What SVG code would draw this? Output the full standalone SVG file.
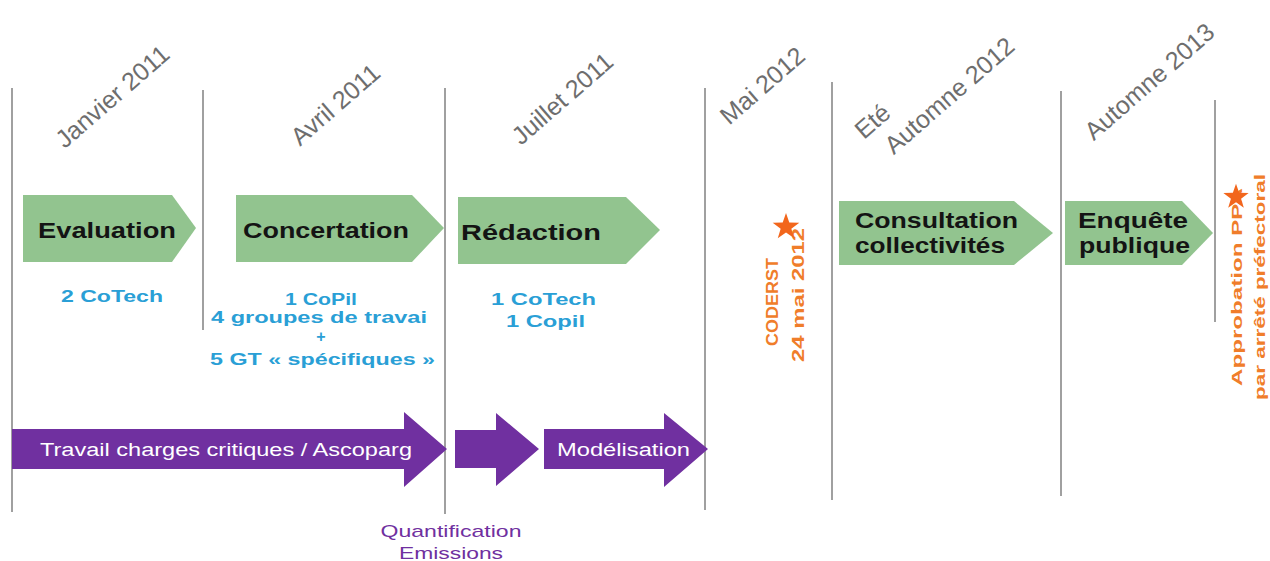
<svg xmlns="http://www.w3.org/2000/svg" width="1270" height="561" viewBox="0 0 1270 561">
<style>
.bg{fill:#ffffff}
.sep{stroke:#808080;stroke-width:1.5;fill:none}
.date{font-family:"Liberation Sans",Arial,sans-serif;font-size:25px;fill:#6e6e6e}
.chev{fill:#92c48f}
.lbl{font-family:"Liberation Sans",Arial,sans-serif;font-size:22px;font-weight:bold;fill:#141414}
.blue{font-family:"Liberation Sans",Arial,sans-serif;font-size:16px;font-weight:bold;fill:#2a9fd6;text-anchor:start}
.purp{fill:#7030a0}
.wt{font-family:"Liberation Sans",Arial,sans-serif;font-size:18px;fill:#ffffff}
.pt{font-family:"Liberation Sans",Arial,sans-serif;font-size:17px;fill:#7030a0}
.or{font-family:"Liberation Sans",Arial,sans-serif;font-size:17px;font-weight:bold;fill:#f07d2a}
.or2{font-family:"Liberation Sans",Arial,sans-serif;font-size:15px;font-weight:bold;fill:#f07d2a}
.star{fill:#f2661c}
</style>
<defs>
<path id="starShape" d="M0,-14 L3.29,-4.53 L13.31,-4.33 L5.33,1.73 L8.23,11.33 L0,5.6 L-8.23,11.33 L-5.33,1.73 L-13.31,-4.33 L-3.29,-4.53 Z"/>
</defs>
<rect class="bg" x="0" y="0" width="1270" height="561"/>

<g id="connectors">
<line class="sep" x1="12" y1="88" x2="12" y2="512"/>
<line class="sep" x1="203" y1="90" x2="203" y2="330"/>
<line class="sep" x1="445" y1="88" x2="445" y2="514"/>
<line class="sep" x1="705" y1="88" x2="705" y2="510"/>
<line class="sep" x1="832" y1="82" x2="832" y2="500"/>
<line class="sep" x1="1061" y1="91" x2="1061" y2="496"/>
<line class="sep" x1="1215" y1="100" x2="1215" y2="322"/>
</g>

<g id="dates">
<text class="date" text-anchor="middle" transform="translate(118,103) rotate(-41)">Janvier 2011</text>
<text class="date" text-anchor="middle" transform="translate(341,111) rotate(-41)">Avril 2011</text>
<text class="date" text-anchor="middle" transform="translate(568,105) rotate(-41)">Juillet 2011</text>
<text class="date" text-anchor="middle" transform="translate(768,92) rotate(-41)">Mai 2012</text>
<text class="date" text-anchor="start" transform="translate(864,140) rotate(-41)">Eté</text>
<text class="date" text-anchor="middle" transform="translate(955,102) rotate(-41)">Automne 2012</text>
<text class="date" text-anchor="middle" transform="translate(1155,88) rotate(-41)">Automne 2013</text>
</g>

<g id="evaluation">
<polygon class="chev" points="23,195 172,195 196,228 172,262 23,262"/>
<text class="lbl" x="38" y="238" textLength="138" lengthAdjust="spacingAndGlyphs">Evaluation</text>
<text class="blue" x="61" y="302" textLength="102" lengthAdjust="spacingAndGlyphs">2 CoTech</text>
</g>

<g id="concertation">
<polygon class="chev" points="236,195 412,195 444,228 412,262 236,262"/>
<text class="lbl" x="243" y="238" textLength="166" lengthAdjust="spacingAndGlyphs">Concertation</text>
<text class="blue" x="285" y="305" textLength="72" lengthAdjust="spacingAndGlyphs">1 CoPil</text>
<text class="blue" x="211" y="323" textLength="216" lengthAdjust="spacingAndGlyphs">4 groupes de travai</text>
<text class="blue" x="321" y="342" style="text-anchor:middle">+</text>
<text class="blue" x="210" y="365" textLength="225" lengthAdjust="spacingAndGlyphs">5 GT « spécifiques »</text>
</g>

<g id="redaction">
<polygon class="chev" points="458,197 626,197 660,230 626,264 458,264"/>
<text class="lbl" x="461" y="240" textLength="140" lengthAdjust="spacingAndGlyphs">Rédaction</text>
<text class="blue" x="491" y="305" textLength="105" lengthAdjust="spacingAndGlyphs">1 CoTech</text>
<text class="blue" x="506" y="327" textLength="79" lengthAdjust="spacingAndGlyphs">1 Copil</text>
</g>

<g id="coderst">
<text class="or" transform="translate(778,346) rotate(-90)" textLength="88" lengthAdjust="spacingAndGlyphs">CODERST</text>
<text class="or" transform="translate(804,362) rotate(-90)" textLength="134" lengthAdjust="spacingAndGlyphs">24 mai 2012</text>
<use href="#starShape" class="star" transform="translate(786,227)"/>
</g>

<g id="consultation">
<polygon class="chev" points="839,201 1014,201 1053,233 1014,265 839,265"/>
<text class="lbl" x="855" y="228" textLength="163" lengthAdjust="spacingAndGlyphs">Consultation</text>
<text class="lbl" x="855" y="253" textLength="150" lengthAdjust="spacingAndGlyphs">collectivités</text>
</g>

<g id="enquete">
<polygon class="chev" points="1065,201 1182,201 1213,233 1182,265 1065,265"/>
<text class="lbl" x="1078" y="228" textLength="110" lengthAdjust="spacingAndGlyphs">Enquête</text>
<text class="lbl" x="1079" y="253" textLength="111" lengthAdjust="spacingAndGlyphs">publique</text>
</g>

<g id="approbation">
<text class="or2" transform="translate(1242,386) rotate(-90)" textLength="198" lengthAdjust="spacingAndGlyphs">Approbation PPA</text>
<text class="or2" transform="translate(1265,400) rotate(-90)" textLength="226" lengthAdjust="spacingAndGlyphs">par arrêté préfectoral</text>
<use href="#starShape" class="star" transform="translate(1236,197) scale(0.95)"/>
</g>

<g id="travail">
<polygon class="purp" points="12,429 404,429 404,412 447,449 404,487 404,469 12,469"/>
<text class="wt" x="40" y="456" textLength="372" lengthAdjust="spacingAndGlyphs">Travail charges critiques / Ascoparg</text>
</g>

<g id="quantification">
<polygon class="purp" points="455,430 496,430 496,413 539,449 496,486 496,468 455,468"/>
<text class="pt" x="451" y="537" text-anchor="middle" textLength="141" lengthAdjust="spacingAndGlyphs">Quantification</text>
<text class="pt" x="451" y="559" text-anchor="middle" textLength="104" lengthAdjust="spacingAndGlyphs">Emissions</text>
</g>

<g id="modelisation">
<polygon class="purp" points="544,429 664,429 664,413 708,449 664,487 664,469 544,469"/>
<text class="wt" x="557" y="456" textLength="133" lengthAdjust="spacingAndGlyphs">Modélisation</text>
</g>
</svg>
